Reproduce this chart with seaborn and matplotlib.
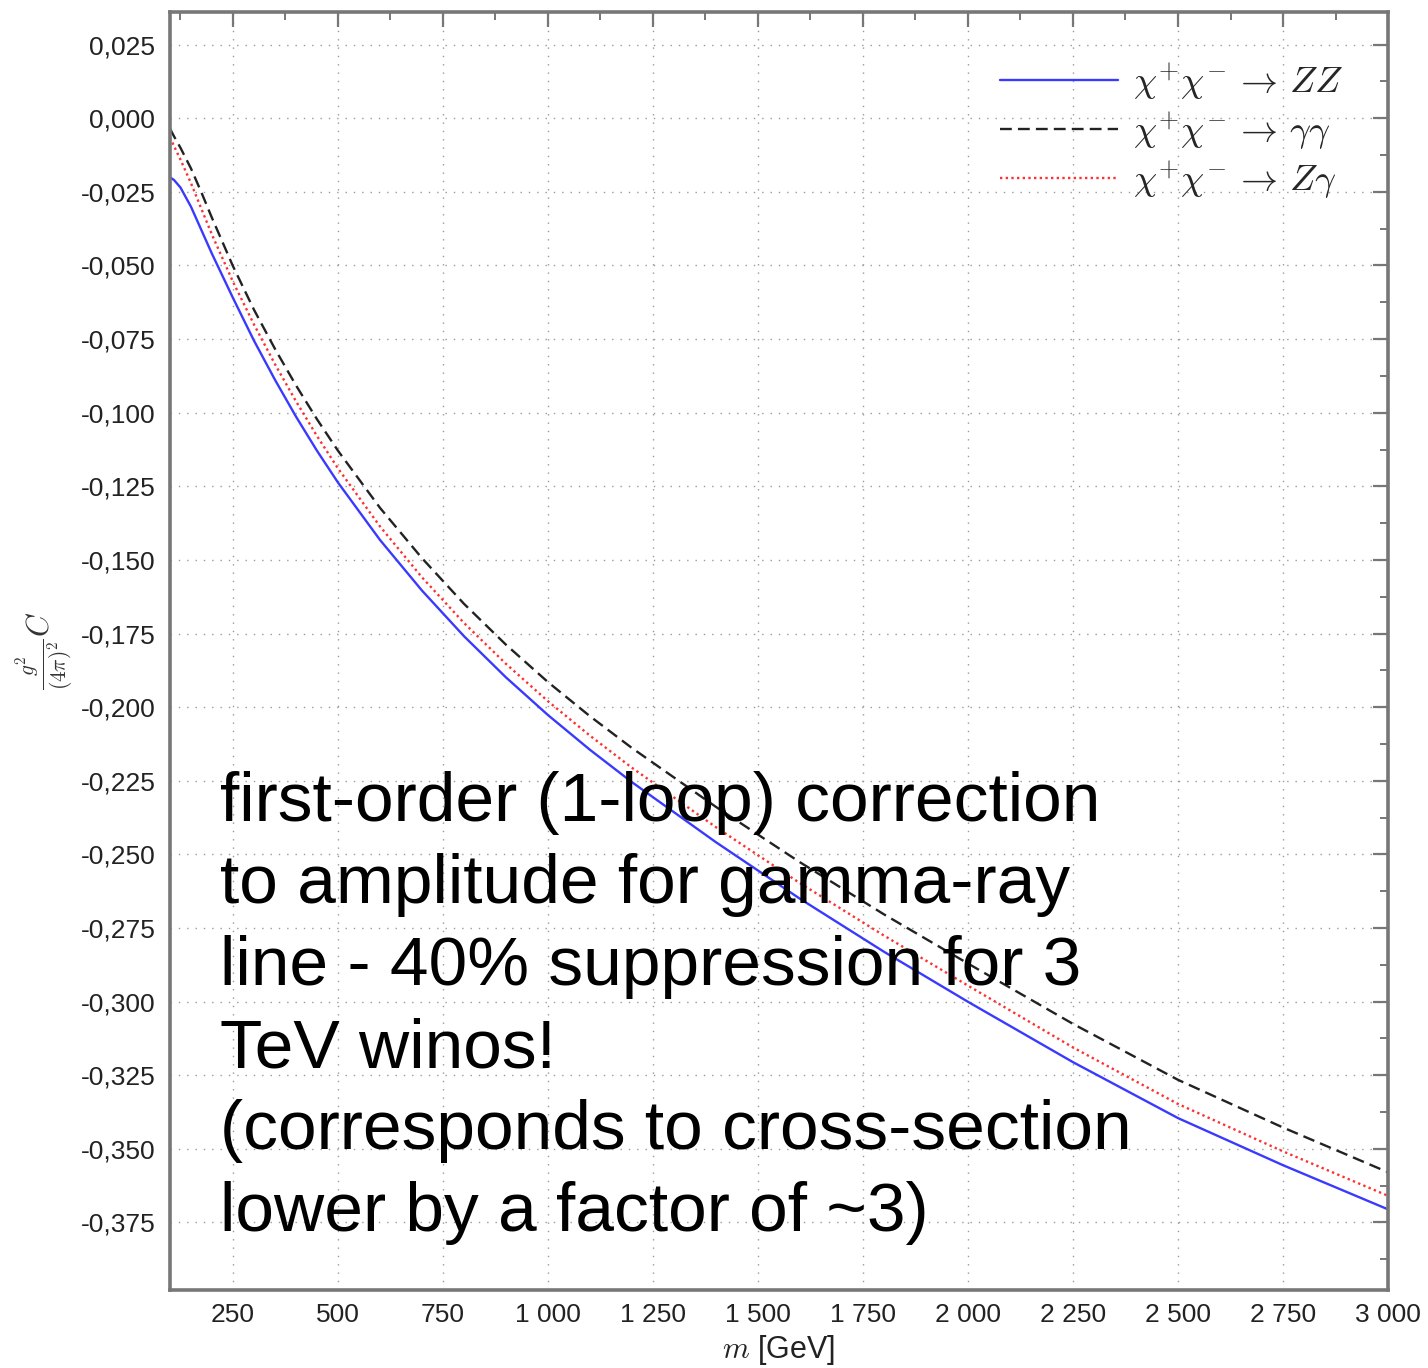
import numpy as np
import pandas as pd
import matplotlib
matplotlib.use("Agg")
import matplotlib.pyplot as plt
from matplotlib.ticker import MultipleLocator, FuncFormatter
import seaborn as sns

# ---- data ----
mass = [100, 110, 125, 150, 175, 200, 250, 300, 350, 400, 450, 500, 600, 700,
        800, 900, 1000, 1100, 1200, 1400, 1600, 1800, 2000, 2250, 2500, 2750, 3000]
c_zz = [-0.0200, -0.0210, -0.0235, -0.0300, -0.0380, -0.0460, -0.0610, -0.0755,
        -0.0888, -0.1013, -0.1129, -0.1237, -0.1432, -0.1604, -0.1759, -0.1899,
        -0.2027, -0.2145, -0.2255, -0.2459, -0.2651, -0.2831, -0.3001, -0.3206,
        -0.3396, -0.3556, -0.3706]
c_gg = [-0.0035, -0.0062, -0.0100, -0.0170, -0.0252, -0.0338, -0.0502, -0.0650,
        -0.0783, -0.0907, -0.1022, -0.1129, -0.1323, -0.1494, -0.1649, -0.1788,
        -0.1915, -0.2031, -0.2139, -0.2339, -0.2527, -0.2704, -0.2871, -0.3076,
        -0.3266, -0.3428, -0.3580]
c_zg = [-0.0065, -0.0095, -0.0140, -0.0220, -0.0308, -0.0395, -0.0555, -0.0700,
        -0.0835, -0.0961, -0.1079, -0.1189, -0.1386, -0.1559, -0.1714, -0.1853,
        -0.1980, -0.2097, -0.2206, -0.2408, -0.2598, -0.2776, -0.2946, -0.3156,
        -0.3348, -0.3509, -0.3660]
labels = [r"$\chi^{+}\chi^{-}\,\rightarrow\,ZZ$",
          r"$\chi^{+}\chi^{-}\,\rightarrow\,\gamma\gamma$",
          r"$\chi^{+}\chi^{-}\,\rightarrow\,Z\gamma$"]
note = ("first-order (1-loop) correction\n"
        "to amplitude for gamma-ray\n"
        "line - 40% suppression for 3\n"
        "TeV winos!\n"
        "(corresponds to cross-section\n"
        "lower by a factor of ~3)")

sns.set_theme(style="white")
plt.rcParams["font.family"] = ["Liberation Sans", "DejaVu Sans"]
plt.rcParams["mathtext.fontset"] = "cm"

fig = plt.figure(figsize=(14.28, 13.68), dpi=100)
ax = fig.add_axes([0.119, 0.057, 0.853, 0.934])

styles = [("#3a3aff", "-", None, 1.7), ("#222222", "--", (5, 2.6), 1.7),
          ("#ff3030", ":", (1, 1.4), 1.7)]
for vals, lab, (col, ls, dash, lw) in zip([c_zz, c_gg, c_zg], labels, styles):
    df = pd.DataFrame({"m": mass, "C": vals})
    sns.lineplot(data=df, x="m", y="C", ax=ax, label=lab, color=col, linewidth=lw)
    ln = ax.get_lines()[-1]
    if dash is not None:
        ln.set_dashes(dash)

ax.set_xlim(100, 3000)
ax.set_ylim(-0.398, 0.036)

ax.xaxis.set_major_locator(MultipleLocator(250))
ax.xaxis.set_minor_locator(MultipleLocator(125))
ax.yaxis.set_major_locator(MultipleLocator(0.025))
ax.yaxis.set_minor_locator(MultipleLocator(0.0125))

def xfmt(v, pos):
    return f"{int(round(v)):,}".replace(",", " ")
def yfmt(v, pos):
    s = f"{v:.3f}".replace(".", ",")
    if s.startswith("-0,000"):
        s = "0,000"
    return s
ax.xaxis.set_major_formatter(FuncFormatter(xfmt))
ax.yaxis.set_major_formatter(FuncFormatter(yfmt))

ax.tick_params(which="major", direction="in", length=11, width=1.6, color="#777777",
               top=True, right=True, labelsize=19, labelcolor="#222222")
ax.tick_params(axis="x", which="major", pad=9)
ax.tick_params(axis="y", which="major", pad=10.5)
ax.tick_params(which="minor", direction="in", length=6, width=1.4, color="#777777",
               top=True, right=True)
ax.grid(True, which="major", linestyle=(0, (1, 5)), color="#999999", linewidth=1.0)
for sp in ax.spines.values():
    sp.set_color("#777777")
    sp.set_linewidth(2.6)

ax.set_xlabel(r"$m$ [GeV]", fontsize=22, color="#222222")
ax.xaxis.set_label_coords(0.5, -0.0335)
ax.set_ylabel(r"$\frac{g^2}{(4\pi)^2}C$", fontsize=22, color="#333333")
ax.yaxis.set_label_coords(-0.078, 0.5)

ax.legend(loc="upper right", bbox_to_anchor=(0.9754, 0.9737), borderaxespad=0,
          frameon=False, fontsize=26.6, handlelength=3.2, labelspacing=0.2,
          handletextpad=0.4)

ax.text(219, -0.2218, note, fontsize=50, color="black", va="top", ha="left",
        linespacing=1.36, zorder=10)

fig.savefig("out.png", dpi=100)
